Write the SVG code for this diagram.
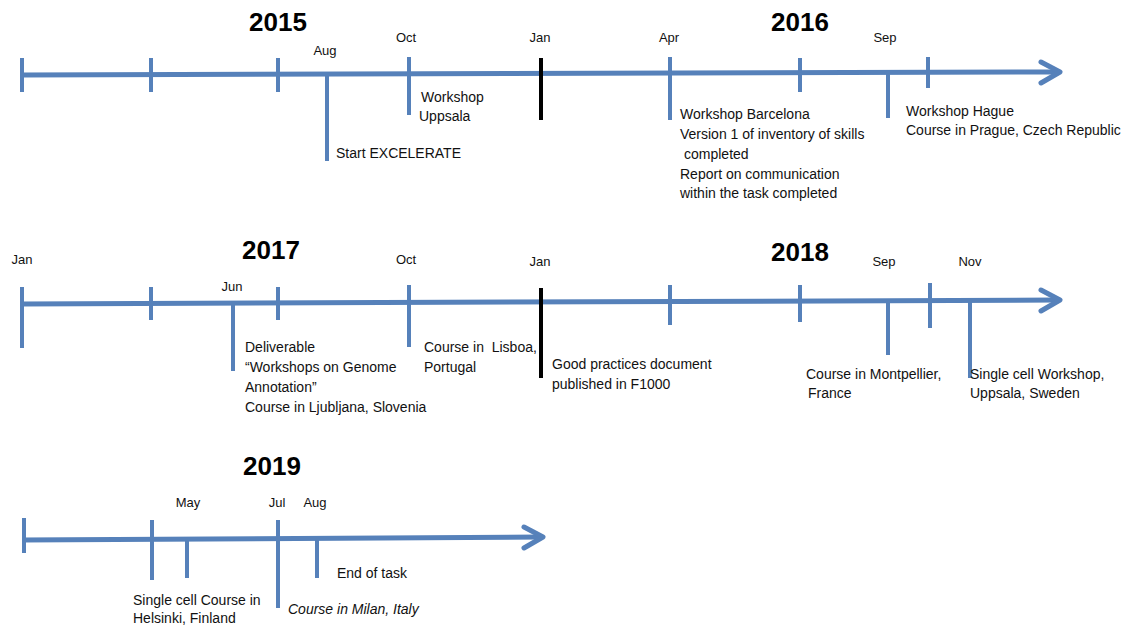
<svg xmlns="http://www.w3.org/2000/svg" width="1131" height="625" viewBox="0 0 1131 625">
<style>
.ax{stroke:#5681BA;stroke-width:5;fill:none}
.tk{stroke:#5681BA;stroke-width:4;fill:none}
.bk{stroke:#000;stroke-width:4;fill:none}
.ah{stroke:#5681BA;stroke-width:5;fill:none;stroke-linecap:round;stroke-linejoin:round}
.yr{font-family:"Liberation Sans",Arial,sans-serif;font-weight:bold;font-size:26px;fill:#000}
.mo{font-family:"Liberation Sans",Arial,sans-serif;font-size:13px;fill:#111}
.tx{font-family:"Liberation Sans",Arial,sans-serif;font-size:14px;fill:#111}
.it{font-style:italic}
</style>
<rect width="1131" height="625" fill="#fff"/>
<g id="connectors">
  <line class="ax" x1="22" y1="75" x2="1058" y2="72"/>
  <polyline class="ah" points="1041,62 1060,72 1041,83"/>
  <line class="tk" x1="22" y1="58" x2="22" y2="92"/>
  <line class="tk" x1="151" y1="58" x2="151" y2="92"/>
  <line class="tk" x1="278" y1="58" x2="278" y2="92"/>
  <line class="tk" x1="327" y1="75" x2="327" y2="161"/>
  <line class="tk" x1="409" y1="57" x2="409" y2="115"/>
  <line class="bk" x1="541" y1="58" x2="541" y2="120"/>
  <line class="tk" x1="670" y1="57" x2="670" y2="120"/>
  <line class="tk" x1="800" y1="58" x2="800" y2="92"/>
  <line class="tk" x1="888" y1="73" x2="888" y2="118"/>
  <line class="tk" x1="928" y1="57" x2="928" y2="88"/>
  <line class="ax" x1="22" y1="304" x2="1058" y2="300"/>
  <polyline class="ah" points="1041,290 1060,300 1041,311"/>
  <line class="tk" x1="22" y1="287" x2="22" y2="348"/>
  <line class="tk" x1="151" y1="287" x2="151" y2="320"/>
  <line class="tk" x1="233" y1="304" x2="233" y2="371"/>
  <line class="tk" x1="278" y1="287" x2="278" y2="320"/>
  <line class="tk" x1="409" y1="285" x2="409" y2="347"/>
  <line class="bk" x1="541" y1="288" x2="541" y2="378"/>
  <line class="tk" x1="670" y1="285" x2="670" y2="325"/>
  <line class="tk" x1="800" y1="285" x2="800" y2="322"/>
  <line class="tk" x1="888" y1="301" x2="888" y2="355"/>
  <line class="tk" x1="930" y1="283" x2="930" y2="328"/>
  <line class="tk" x1="970" y1="300" x2="970" y2="378"/>
  <line class="ax" x1="22" y1="540" x2="541" y2="537"/>
  <polyline class="ah" points="524,527 543,537 524,548"/>
  <line class="tk" x1="24" y1="518" x2="24" y2="553"/>
  <line class="tk" x1="152" y1="520" x2="152" y2="580"/>
  <line class="tk" x1="187" y1="540" x2="187" y2="578"/>
  <line class="tk" x1="278" y1="520" x2="278" y2="608"/>
  <line class="tk" x1="317" y1="540" x2="317" y2="578"/>
</g>
<g id="years">
  <text class="yr" x="278" y="31" text-anchor="middle">2015</text>
  <text class="yr" x="800" y="31" text-anchor="middle">2016</text>
  <text class="yr" x="271" y="259" text-anchor="middle">2017</text>
  <text class="yr" x="800" y="261" text-anchor="middle">2018</text>
  <text class="yr" x="272" y="475" text-anchor="middle">2019</text>
</g>
<g id="months">
  <text class="mo" x="325" y="55" text-anchor="middle">Aug</text>
  <text class="mo" x="406" y="42" text-anchor="middle">Oct</text>
  <text class="mo" x="540" y="42" text-anchor="middle">Jan</text>
  <text class="mo" x="669" y="42" text-anchor="middle">Apr</text>
  <text class="mo" x="885" y="42" text-anchor="middle">Sep</text>
  <text class="mo" x="22" y="264" text-anchor="middle">Jan</text>
  <text class="mo" x="232" y="291" text-anchor="middle">Jun</text>
  <text class="mo" x="406" y="264" text-anchor="middle">Oct</text>
  <text class="mo" x="540" y="266" text-anchor="middle">Jan</text>
  <text class="mo" x="884" y="266" text-anchor="middle">Sep</text>
  <text class="mo" x="970" y="266" text-anchor="middle">Nov</text>
  <text class="mo" x="188" y="507" text-anchor="middle">May</text>
  <text class="mo" x="277" y="507" text-anchor="middle">Jul</text>
  <text class="mo" x="315" y="507" text-anchor="middle">Aug</text>
</g>
<g id="node-aug2015"><text class="tx" x="336" y="158">Start EXCELERATE</text></g>
<g id="node-oct2015"><text class="tx" x="421" y="102">Workshop</text><text class="tx" x="419" y="121">Uppsala</text></g>
<g id="node-apr2016">
  <text class="tx" x="680" y="119">Workshop Barcelona</text>
  <text class="tx" x="680" y="139">Version 1 of inventory of skills</text>
  <text class="tx" x="684" y="159">completed</text>
  <text class="tx" x="680" y="179">Report on communication</text>
  <text class="tx" x="680" y="198">within the task completed</text>
</g>
<g id="node-sep2016"><text class="tx" x="906" y="116">Workshop Hague</text><text class="tx" x="906" y="135">Course in Prague, Czech Republic</text></g>
<g id="node-jun2017">
  <text class="tx" x="245" y="352">Deliverable</text>
  <text class="tx" x="245" y="372">“Workshops on Genome</text>
  <text class="tx" x="245" y="392">Annotation”</text>
  <text class="tx" x="245" y="412">Course in Ljubljana, Slovenia</text>
</g>
<g id="node-oct2017"><text class="tx" x="424" y="352" xml:space="preserve">Course in  Lisboa,</text><text class="tx" x="424" y="372">Portugal</text></g>
<g id="node-jan2018"><text class="tx" x="552" y="369">Good practices document</text><text class="tx" x="552" y="389">published in F1000</text></g>
<g id="node-sep2018"><text class="tx" x="806" y="379">Course in Montpellier,</text><text class="tx" x="808" y="398">France</text></g>
<g id="node-nov2018"><text class="tx" x="970" y="379">Single cell Workshop,</text><text class="tx" x="970" y="398">Uppsala, Sweden</text></g>
<g id="node-may2019"><text class="tx" x="133" y="605">Single cell Course in</text><text class="tx" x="133" y="623">Helsinki, Finland</text></g>
<g id="node-jul2019"><text class="tx it" x="288" y="614">Course in Milan, Italy</text></g>
<g id="node-aug2019"><text class="tx" x="337" y="578">End of task</text></g>
</svg>
